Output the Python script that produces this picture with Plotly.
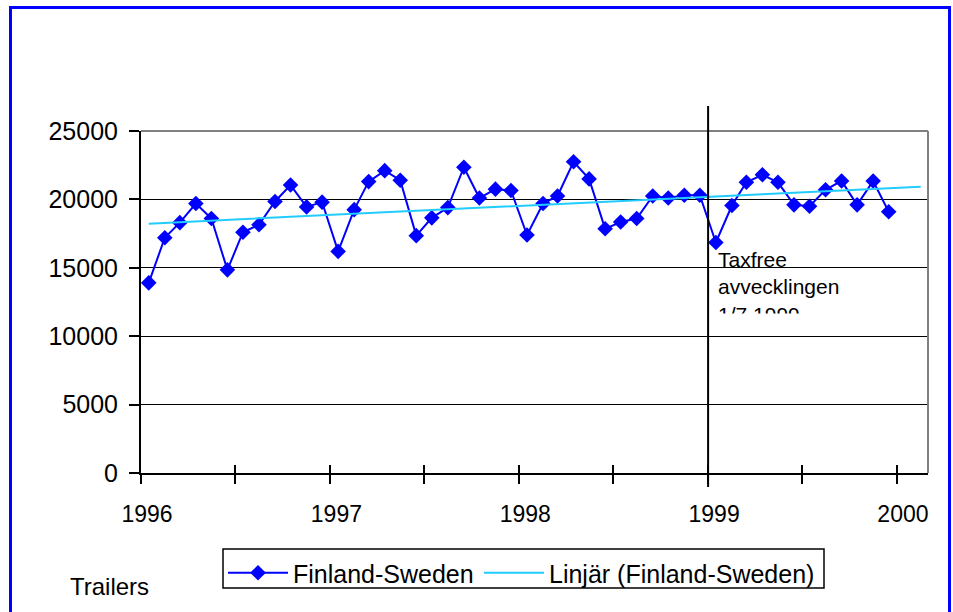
import numpy as np
import pandas as pd
import plotly.graph_objects as go

# monthly trailers Finland-Sweden, Jan 1996 - Dec 1999
months = pd.date_range("1996-01-01", periods=48, freq="MS") + pd.Timedelta(days=15)
trailers = [
    13900, 17200, 18300, 19700, 18600, 14850, 17600, 18150, 19850, 21050, 19450, 19800,
    16200, 19250, 21300, 22100, 21400, 17350, 18650, 19400, 22350, 20100, 20750, 20650,
    17400, 19700, 20250, 22750, 21500, 17850, 18350, 18600, 20250, 20100, 20300, 20300,
    16850, 19550, 21250, 21800, 21250, 19600, 19500, 20700, 21350, 19600, 21350, 19100,
]
series_name = "Finland-Sweden"
trend_name = "Linjär (Finland-Sweden)"
note_text = "Taxfree<br>avvecklingen<br>1/7 1999"
y_ticks = [0, 5000, 10000, 15000, 20000, 25000]
year_ticks = pd.date_range("1996-01-01", "2000-01-01", freq="6MS")
year_labels = [str(d.year) if d.month == 1 else "" for d in year_ticks]

# linear trend, extended two periods forward like the Excel trendline
idx = np.arange(len(trailers))
slope, intercept = np.polyfit(idx, trailers, 1)
trend_idx = np.arange(len(trailers) + 2)
trend_x = pd.date_range("1996-01-01", periods=len(trend_idx), freq="MS") + pd.Timedelta(days=15)
trend_y = intercept + slope * trend_idx

W, H = 953, 612
pw, ph = 787, 342
L, T = 141, 131
R, B = W - L - pw, H - T - ph


def px(x):
    return (x - L) / pw


def py(y):
    return (T + ph - y) / ph


fig = go.Figure()
fig.add_trace(go.Scatter(
    x=months, y=trailers, name=series_name, mode="lines+markers",
    line=dict(color="#0000FF", width=2),
    marker=dict(symbol="diamond", size=12, color="#0000FF"),
    legend="legend",
))
fig.add_trace(go.Scatter(
    x=trend_x, y=trend_y, name=trend_name, mode="lines",
    line=dict(color="#22CCFF", width=2),
    legend="legend2",
))
# helper trace so the overlay axis (inner half of crossing ticks) is drawn
fig.add_trace(go.Scatter(x=[None], y=[None], xaxis="x2", showlegend=False, hoverinfo="skip"))

font = "Arial, Liberation Sans, sans-serif"
leg = dict(yanchor="top", xanchor="left", y=py(550), bgcolor="rgba(0,0,0,0)",
           borderwidth=0, font=dict(size=25), itemwidth=60)
fig.update_layout(
    width=W, height=H,
    margin=dict(l=L, r=R, t=T, b=B),
    paper_bgcolor="white", plot_bgcolor="white",
    font=dict(family=font, color="black"),
    showlegend=True,
    legend=dict(leg, x=px(223)),
    legend2=dict(leg, x=px(479)),
    xaxis=dict(
        type="date", range=["1996-01-01", "2000-03-01"],
        tickvals=year_ticks, ticktext=year_labels,
        ticks="outside", ticklen=9, tickwidth=1.5, tickcolor="black",
        showline=True, linecolor="black", linewidth=2,
        showgrid=False, zeroline=False,
        tickfont=dict(size=23), ticklabelstandoff=10, ticklabelshift=6,
    ),
    xaxis2=dict(
        type="date", range=["1996-01-01", "2000-03-01"], overlaying="x",
        tickvals=year_ticks, ticks="inside", ticklen=8, tickwidth=1.5, tickcolor="black",
        showticklabels=False, showgrid=False, zeroline=False, showline=False,
    ),
    yaxis=dict(
        range=[0, 25000], tickvals=y_ticks, ticktext=[str(v) for v in y_ticks],
        ticks="outside", ticklen=10, tickwidth=1.5, tickcolor="black",
        showline=True, linecolor="black", linewidth=2,
        showgrid=True, gridcolor="black", gridwidth=1, zeroline=False,
        tickfont=dict(size=25), ticklabelstandoff=6,
    ),
    shapes=[
        # gray top and right frame of the plot area
        dict(type="line", xref="paper", yref="paper", x0=0, x1=1, y0=1, y1=1,
             line=dict(color="#808080", width=2)),
        dict(type="line", xref="paper", yref="paper", x0=1, x1=1, y0=0, y1=1,
             line=dict(color="#808080", width=2)),
        # marker line at 1999
        dict(type="line", xref="x", yref="paper", x0="1999-01-01", x1="1999-01-01",
             y0=py(487), y1=py(106), line=dict(color="black", width=2)),
        # legend frame
        dict(type="rect", xref="paper", yref="paper",
             x0=px(223), x1=px(824), y0=py(588), y1=py(549),
             line=dict(color="black", width=1.5), fillcolor="white"),
        # blue outer border
        dict(type="rect", xref="paper", yref="paper",
             x0=px(10.5), x1=px(949.5), y0=py(625), y1=py(7.5),
             line=dict(color="#0000FF", width=3)),
    ],
    annotations=[
        dict(text=note_text, xref="paper", yref="paper", x=px(716), y=py(246),
             xanchor="left", yanchor="top", align="left", showarrow=False,
             font=dict(size=21)),
        # white box clipping the last line of the note like the original text box
        dict(text=" ", xref="paper", yref="paper", x=px(712), y=py(313),
             xanchor="left", yanchor="top", showarrow=False,
             width=130, height=18, bgcolor="white", borderpad=0),
        dict(text="Trailers", xref="paper", yref="paper", x=px(68), y=py(586),
             xanchor="left", yanchor="middle", showarrow=False,
             font=dict(size=24)),
    ],
)

# drop the default 8px page margin so the figure sits at the window origin
fig.write_html("out.html", config={"displayModeBar": False},
               post_script="document.body.style.margin='0';")
